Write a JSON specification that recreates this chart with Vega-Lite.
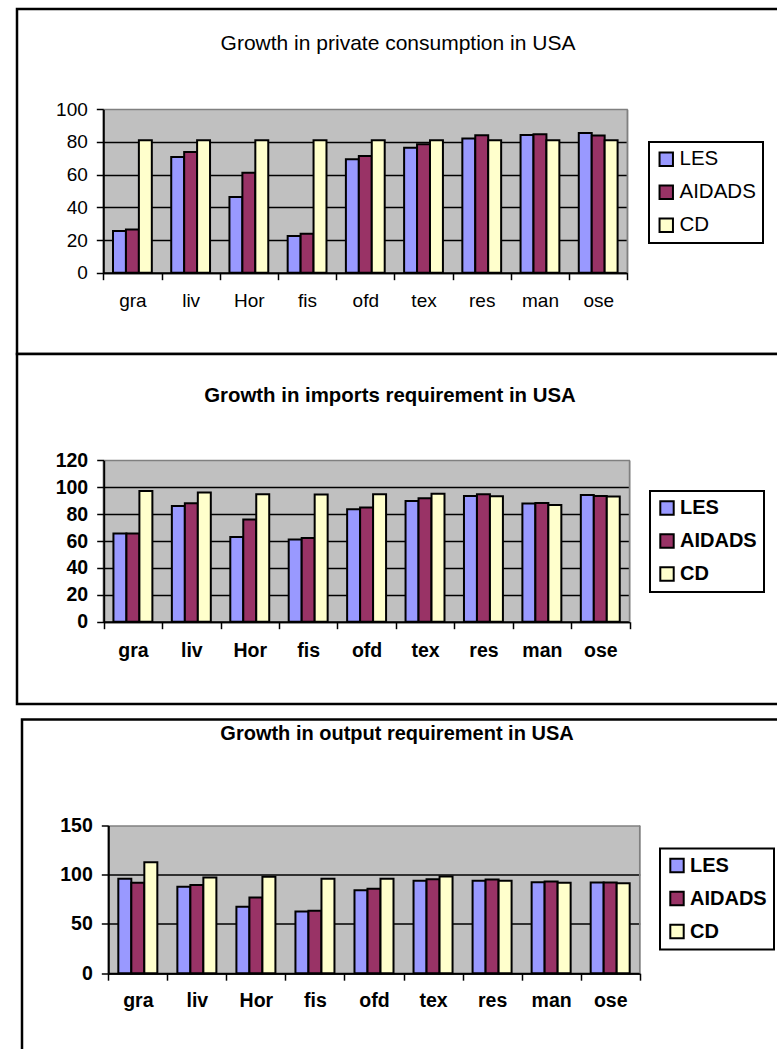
{
  "$schema": "https://vega.github.io/schema/vega-lite/v6.json",
  "padding": {"left": 15, "top": 7, "right": 0, "bottom": 0},
  "datasets": {
    "consumption": [
      {"sector": "gra", "model": "LES", "growth": 25.5}, {"sector": "gra", "model": "AIDADS", "growth": 26.5}, {"sector": "gra", "model": "CD", "growth": 81},
      {"sector": "liv", "model": "LES", "growth": 70.8}, {"sector": "liv", "model": "AIDADS", "growth": 73.9}, {"sector": "liv", "model": "CD", "growth": 81},
      {"sector": "Hor", "model": "LES", "growth": 46.3}, {"sector": "Hor", "model": "AIDADS", "growth": 61.2}, {"sector": "Hor", "model": "CD", "growth": 81},
      {"sector": "fis", "model": "LES", "growth": 22.4}, {"sector": "fis", "model": "AIDADS", "growth": 23.9}, {"sector": "fis", "model": "CD", "growth": 81},
      {"sector": "ofd", "model": "LES", "growth": 69.4}, {"sector": "ofd", "model": "AIDADS", "growth": 71.4}, {"sector": "ofd", "model": "CD", "growth": 81},
      {"sector": "tex", "model": "LES", "growth": 76.5}, {"sector": "tex", "model": "AIDADS", "growth": 78.6}, {"sector": "tex", "model": "CD", "growth": 81},
      {"sector": "res", "model": "LES", "growth": 82.2}, {"sector": "res", "model": "AIDADS", "growth": 84.1}, {"sector": "res", "model": "CD", "growth": 81},
      {"sector": "man", "model": "LES", "growth": 84.3}, {"sector": "man", "model": "AIDADS", "growth": 84.7}, {"sector": "man", "model": "CD", "growth": 81},
      {"sector": "ose", "model": "LES", "growth": 85.5}, {"sector": "ose", "model": "AIDADS", "growth": 83.9}, {"sector": "ose", "model": "CD", "growth": 81}
    ],
    "imports": [
      {"sector": "gra", "model": "LES", "growth": 65.5}, {"sector": "gra", "model": "AIDADS", "growth": 65.5}, {"sector": "gra", "model": "CD", "growth": 97.2},
      {"sector": "liv", "model": "LES", "growth": 86.0}, {"sector": "liv", "model": "AIDADS", "growth": 88.0}, {"sector": "liv", "model": "CD", "growth": 96.0},
      {"sector": "Hor", "model": "LES", "growth": 63.0}, {"sector": "Hor", "model": "AIDADS", "growth": 75.9}, {"sector": "Hor", "model": "CD", "growth": 94.7},
      {"sector": "fis", "model": "LES", "growth": 61.2}, {"sector": "fis", "model": "AIDADS", "growth": 62.2}, {"sector": "fis", "model": "CD", "growth": 94.5},
      {"sector": "ofd", "model": "LES", "growth": 83.6}, {"sector": "ofd", "model": "AIDADS", "growth": 85.0}, {"sector": "ofd", "model": "CD", "growth": 94.7},
      {"sector": "tex", "model": "LES", "growth": 89.8}, {"sector": "tex", "model": "AIDADS", "growth": 91.7}, {"sector": "tex", "model": "CD", "growth": 95.2},
      {"sector": "res", "model": "LES", "growth": 93.5}, {"sector": "res", "model": "AIDADS", "growth": 94.7}, {"sector": "res", "model": "CD", "growth": 93.2},
      {"sector": "man", "model": "LES", "growth": 87.8}, {"sector": "man", "model": "AIDADS", "growth": 88.3}, {"sector": "man", "model": "CD", "growth": 86.8},
      {"sector": "ose", "model": "LES", "growth": 94.2}, {"sector": "ose", "model": "AIDADS", "growth": 93.5}, {"sector": "ose", "model": "CD", "growth": 93.0}
    ],
    "output": [
      {"sector": "gra", "model": "LES", "growth": 95.8}, {"sector": "gra", "model": "AIDADS", "growth": 91.8}, {"sector": "gra", "model": "CD", "growth": 112.8},
      {"sector": "liv", "model": "LES", "growth": 87.7}, {"sector": "liv", "model": "AIDADS", "growth": 89.7}, {"sector": "liv", "model": "CD", "growth": 97.2},
      {"sector": "Hor", "model": "LES", "growth": 67.4}, {"sector": "Hor", "model": "AIDADS", "growth": 76.9}, {"sector": "Hor", "model": "CD", "growth": 97.9},
      {"sector": "fis", "model": "LES", "growth": 62.6}, {"sector": "fis", "model": "AIDADS", "growth": 63.3}, {"sector": "fis", "model": "CD", "growth": 95.8},
      {"sector": "ofd", "model": "LES", "growth": 84.3}, {"sector": "ofd", "model": "AIDADS", "growth": 85.7}, {"sector": "ofd", "model": "CD", "growth": 95.8},
      {"sector": "tex", "model": "LES", "growth": 93.8}, {"sector": "tex", "model": "AIDADS", "growth": 95.5}, {"sector": "tex", "model": "CD", "growth": 98.2},
      {"sector": "res", "model": "LES", "growth": 93.8}, {"sector": "res", "model": "AIDADS", "growth": 95.2}, {"sector": "res", "model": "CD", "growth": 93.8},
      {"sector": "man", "model": "LES", "growth": 92.4}, {"sector": "man", "model": "AIDADS", "growth": 93.1}, {"sector": "man", "model": "CD", "growth": 91.8},
      {"sector": "ose", "model": "LES", "growth": 92.1}, {"sector": "ose", "model": "AIDADS", "growth": 92.1}, {"sector": "ose", "model": "CD", "growth": 91.4}
    ]
  },
  "vconcat": [
    {
      "vconcat": [
        {
          "width": 770,
          "height": 345,
          "view": {"stroke": "black", "strokeWidth": 2.5, "fill": "white"},
          "data": {"name": "consumption"},
          "title": {"text": "Growth in private consumption in USA", "fontSize": 21, "fontWeight": "normal", "anchor": "middle", "frame": "group", "baseline": "middle", "offset": -55.75, "dx": -4},
          "resolve": {"axis": {"x": "independent"}},
          "layer": [
            {
              "transform": [{"filter": "datum.sector === 'ose' && datum.model === 'LES'"}],
              "mark": {"type": "rule", "color": "#808080", "strokeWidth": 1.5},
              "encoding": {
                "x": {"field": "sector", "type": "nominal", "bandPosition": 1, "sort": ["gra", "liv", "Hor", "fis", "ofd", "tex", "res", "man", "ose"],
                      "axis": {"orient": "top", "grid": true, "gridColor": "#C0C0C0", "gridWidth": 60.5, "gridOpacity": 1, "domain": false, "ticks": false, "labels": false, "title": null}},
                "y": {"datum": 100, "type": "quantitative", "title": null},
                "y2": {"datum": 0}
              }
            },
            {
              "mark": {"type": "bar", "stroke": "black", "strokeWidth": 2},
              "encoding": {
                "x": {"field": "sector", "type": "nominal", "sort": ["gra", "liv", "Hor", "fis", "ofd", "tex", "res", "man", "ose"],
                      "scale": {"domain": ["gra", "liv", "Hor", "fis", "ofd", "tex", "res", "man", "ose"], "range": [86.3, 610.3], "paddingInner": 0, "paddingOuter": 0},
                      "axis": {"orient": "bottom", "offset": -81.3, "tickBand": "extent", "grid": false, "title": null, "labelAngle": 0, "labelFontSize": 19, "labelPadding": 12, "labelBaseline": "top", "tickSize": 7, "tickWidth": 1.5, "domainWidth": 2}},
                "xOffset": {"field": "model", "type": "nominal", "sort": ["LES", "AIDADS", "CD"], "scale": {"paddingInner": 0, "paddingOuter": 0.75}},
                "y": {"field": "growth", "type": "quantitative", "title": null,
                      "scale": {"domain": [0, 100], "range": [263.7, 100.3], "nice": false},
                      "axis": {"orient": "left", "offset": -86.3, "values": [0, 20, 40, 60, 80, 100], "grid": true, "gridWidth": 1.5, "gridOpacity": 1,
                               "gridColor": {"condition": {"test": "datum.value === 100", "value": "#808080"}, "value": "black"},
                               "title": null, "labelFontSize": 19, "labelPadding": 9, "tickSize": 7, "tickWidth": 1.5, "domainWidth": 2}},
                "color": {"field": "model", "type": "nominal", "sort": ["LES", "AIDADS", "CD"],
                          "scale": {"domain": ["LES", "AIDADS", "CD"], "range": ["#9999FF", "#993366", "#FFFFCC"]},
                          "legend": {"orient": "none", "legendX": 632, "legendY": 133, "title": null, "strokeColor": "black", "fillColor": "white", "padding": 7, "rowPadding": 11,
                                     "symbolType": "square", "symbolSize": 180, "symbolStrokeColor": "black", "symbolStrokeWidth": 2, "labelFontSize": 20.5, "labelOffset": 3}}
              }
            }
          ]
        },
        {
          "width": 770,
          "height": 350,
          "view": {"stroke": "black", "strokeWidth": 2.5, "fill": "white"},
          "data": {"name": "imports"},
          "title": {"text": "Growth in imports requirement in USA", "fontSize": 20.4, "fontWeight": "bold", "anchor": "middle", "frame": "group", "baseline": "middle", "offset": -62.5, "dx": -12},
          "resolve": {"axis": {"x": "independent"}},
          "layer": [
            {
              "transform": [{"filter": "datum.sector === 'ose' && datum.model === 'LES'"}],
              "mark": {"type": "rule", "color": "#808080", "strokeWidth": 1.5},
              "encoding": {
                "x": {"field": "sector", "type": "nominal", "bandPosition": 1, "sort": ["gra", "liv", "Hor", "fis", "ofd", "tex", "res", "man", "ose"],
                      "axis": {"orient": "top", "grid": true, "gridColor": "#C0C0C0", "gridWidth": 60.5, "gridOpacity": 1, "domain": false, "ticks": false, "labels": false, "title": null}},
                "y": {"datum": 120, "type": "quantitative", "title": null},
                "y2": {"datum": 0}
              }
            },
            {
              "mark": {"type": "bar", "stroke": "black", "strokeWidth": 2},
              "encoding": {
                "x": {"field": "sector", "type": "nominal", "sort": ["gra", "liv", "Hor", "fis", "ofd", "tex", "res", "man", "ose"],
                      "scale": {"domain": ["gra", "liv", "Hor", "fis", "ofd", "tex", "res", "man", "ose"], "range": [86.7, 612.5], "paddingInner": 0, "paddingOuter": 0},
                      "axis": {"orient": "bottom", "offset": -82.3, "tickBand": "extent", "grid": false, "title": null, "labelAngle": 0, "labelFontSize": 19.5, "labelFontWeight": "bold", "labelPadding": 13, "labelBaseline": "top", "tickSize": 7, "tickWidth": 1.5, "domainWidth": 2}},
                "xOffset": {"field": "model", "type": "nominal", "sort": ["LES", "AIDADS", "CD"], "scale": {"paddingInner": 0, "paddingOuter": 0.75}},
                "y": {"field": "growth", "type": "quantitative", "title": null,
                      "scale": {"domain": [0, 120], "range": [267.7, 106.3], "nice": false},
                      "axis": {"orient": "left", "offset": -86.7, "values": [0, 20, 40, 60, 80, 100, 120], "grid": true, "gridWidth": 1.5, "gridOpacity": 1,
                               "gridColor": {"condition": {"test": "datum.value === 120", "value": "#808080"}, "value": "black"},
                               "title": null, "labelFontSize": 19.5, "labelFontWeight": "bold", "labelPadding": 9, "tickSize": 7, "tickWidth": 1.5, "domainWidth": 2}},
                "color": {"field": "model", "type": "nominal", "sort": ["LES", "AIDADS", "CD"],
                          "scale": {"domain": ["LES", "AIDADS", "CD"], "range": ["#9999FF", "#993366", "#FFFFCC"]},
                          "legend": {"orient": "none", "legendX": 633, "legendY": 137, "title": null, "strokeColor": "black", "fillColor": "white", "padding": 7, "rowPadding": 11,
                                     "symbolType": "square", "symbolSize": 180, "symbolStrokeColor": "black", "symbolStrokeWidth": 2, "labelFontSize": 20, "labelFontWeight": "bold", "labelOffset": 3}}
              }
            }
          ]
        }
      ],
      "spacing": 0,
      "bounds": "flush",
      "resolve": {"scale": {"x": "independent", "y": "independent", "xOffset": "independent", "color": "independent"}, "legend": {"color": "independent"}, "axis": {"x": "independent", "y": "independent"}}
    },
    {
      "hconcat": [
        {"width": 5, "height": 10, "view": {"stroke": null, "fill": "white"}, "data": {"values": []}, "mark": "point"},
        {
          "width": 765,
          "height": 345,
          "view": {"stroke": "black", "strokeWidth": 2.5, "fill": "white"},
          "data": {"name": "output"},
          "title": {"text": "Growth in output requirement in USA", "fontSize": 20, "fontWeight": "bold", "anchor": "middle", "frame": "group", "baseline": "middle", "offset": -34.3, "dx": -7.5},
          "resolve": {"axis": {"x": "independent"}},
          "layer": [
            {
              "transform": [{"filter": "datum.sector === 'ose' && datum.model === 'LES'"}],
              "mark": {"type": "rule", "color": "#808080", "strokeWidth": 1.5},
              "encoding": {
                "x": {"field": "sector", "type": "nominal", "bandPosition": 1, "sort": ["gra", "liv", "Hor", "fis", "ofd", "tex", "res", "man", "ose"],
                      "axis": {"orient": "top", "grid": true, "gridColor": "#C0C0C0", "gridWidth": 61, "gridOpacity": 1, "domain": false, "ticks": false, "labels": false, "title": null}},
                "y": {"datum": 150, "type": "quantitative", "title": null},
                "y2": {"datum": 0}
              }
            },
            {
              "mark": {"type": "bar", "stroke": "black", "strokeWidth": 2},
              "encoding": {
                "x": {"field": "sector", "type": "nominal", "sort": ["gra", "liv", "Hor", "fis", "ofd", "tex", "res", "man", "ose"],
                      "scale": {"domain": ["gra", "liv", "Hor", "fis", "ofd", "tex", "res", "man", "ose"], "range": [86.3, 617.7], "paddingInner": 0, "paddingOuter": 0},
                      "axis": {"orient": "bottom", "offset": -91.3, "tickBand": "extent", "grid": false, "title": null, "labelAngle": 0, "labelFontSize": 19.5, "labelFontWeight": "bold", "labelPadding": 11, "labelBaseline": "top", "tickSize": 7, "tickWidth": 1.5, "domainWidth": 2}},
                "xOffset": {"field": "model", "type": "nominal", "sort": ["LES", "AIDADS", "CD"], "scale": {"paddingInner": 0, "paddingOuter": 0.77}},
                "y": {"field": "growth", "type": "quantitative", "title": null,
                      "scale": {"domain": [0, 150], "range": [253.7, 106], "nice": false},
                      "axis": {"orient": "left", "offset": -86.3, "values": [0, 50, 100, 150], "grid": true, "gridWidth": 1.5, "gridOpacity": 1,
                               "gridColor": {"condition": {"test": "datum.value === 150", "value": "#808080"}, "value": "black"},
                               "title": null, "labelFontSize": 19.5, "labelFontWeight": "bold", "labelPadding": 9, "tickSize": 7, "tickWidth": 1.5, "domainWidth": 2}},
                "color": {"field": "model", "type": "nominal", "sort": ["LES", "AIDADS", "CD"],
                          "scale": {"domain": ["LES", "AIDADS", "CD"], "range": ["#9999FF", "#993366", "#FFFFCC"]},
                          "legend": {"orient": "none", "legendX": 643, "legendY": 129, "title": null, "strokeColor": "black", "fillColor": "white", "padding": 7, "rowPadding": 11,
                                     "symbolType": "square", "symbolSize": 180, "symbolStrokeColor": "black", "symbolStrokeWidth": 2, "labelFontSize": 20, "labelFontWeight": "bold", "labelOffset": 3}}
              }
            }
          ]
        }
      ],
      "spacing": 0,
      "bounds": "flush"
    }
  ],
  "spacing": 11.5,
  "bounds": "full",
  "resolve": {"scale": {"x": "independent", "y": "independent", "xOffset": "independent", "color": "independent"}, "legend": {"color": "independent"}, "axis": {"x": "independent", "y": "independent"}},
  "config": {
    "font": "Liberation Sans",
    "view": {"stroke": null},
    "axis": {"labelColor": "black", "domainColor": "black", "tickColor": "black", "labelFont": "Liberation Sans"},
    "legend": {"strokeWidth": 2, "labelColor": "black", "labelFont": "Liberation Sans"},
    "title": {"color": "black", "font": "Liberation Sans"}
  }
}
